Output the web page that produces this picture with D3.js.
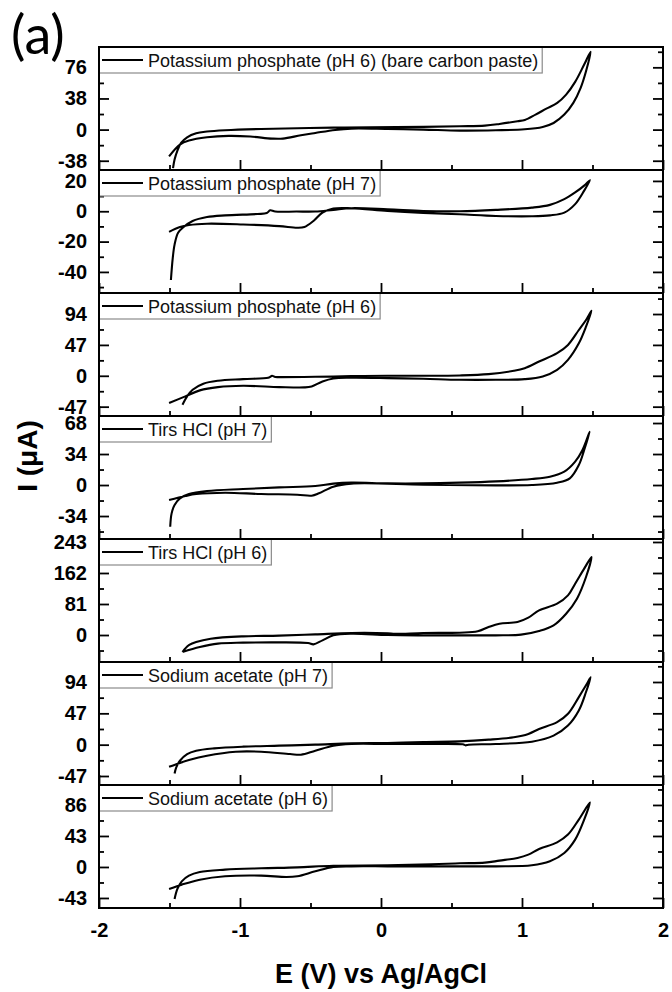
<!DOCTYPE html>
<html>
<head>
<meta charset="utf-8">
<script src="https://cdn.jsdelivr.net/npm/d3@7"></script>
<style>
  body { margin: 0; background: #fff; }
  svg { display: block; }
</style>
</head>
<body>
<svg id="chart" width="672" height="992"></svg>
<script>
// Electrolyte / pH of each stacked voltammogram, top to bottom
const panelLabels = [
  "Potassium phosphate (pH 6) (bare carbon paste)",
  "Potassium phosphate (pH 7)",
  "Potassium phosphate (pH 6)",
  "Tirs HCl (pH 7)",
  "Tirs HCl (pH 6)",
  "Sodium acetate (pH 7)",
  "Sodium acetate (pH 6)"
];

// Labelled tick step of each current axis (µA); minor ticks sit halfway
const tickSteps = [38, 20, 47, 34, 81, 47, 43];

// Current range shown by each panel (µA)
const currentRanges = [
  [-49.3, 100.8],
  [-53.9, 27.2],
  [-61.2, 126],
  [-59.2, 75.7],
  [-70.5, 250.8],
  [-60.5, 124],
  [-56.9, 113.7]
];

// Potential axis
const potentialRange = [-2, 2];
const potentialTicks = [-2, -1, 0, 1, 2];
const potentialMinorTicks = [-1.5, -0.5, 0.5, 1.5];

// Cyclic voltammograms, [E (V), I (µA)] in scan order
const kPhosBarePH6 = [
  [-1.475,-47],[-1.464,-36.6],[-1.444,-25.6],[-1.418,-16.3],[-1.375,-9.4],[-1.311,-4.5],
  [-1.234,-2.4],[-1.106,-0.8],[-0.85,0.8],[-0.594,1.6],[-0.338,2.4],[-0.08,2.8],[0.30,3.3],
  [0.558,4.1],[0.737,4.9],[0.84,6.9],[0.968,10.2],[1.02,11.8],[1.096,18.3],[1.173,25.6],
  [1.25,32.6],[1.313,42.7],[1.377,58.2],[1.441,79.4],[1.487,95],
  [1.454,71.2],[1.416,50.9],[1.364,32.6],[1.30,18.3],[1.224,8.1],[1.147,3.3],[1.019,0.4],
  [0.814,-0.8],[0.558,-1.2],[0.30,0],[0.046,0.8],[-0.21,1.2],[-0.325,-0.4],[-0.466,-4.1],
  [-0.568,-6.9],[-0.696,-11],[-0.773,-11],[-0.927,-8.5],[-1.08,-7.7],[-1.234,-9.4],
  [-1.362,-13.4],[-1.426,-18.3],[-1.503,-32.6]
];
const kPhosPH7 = [
  [-1.49,-45.3],[-1.477,-30.9],[-1.464,-22],[-1.439,-14.2],[-1.40,-10.4],[-1.336,-6.4],
  [-1.234,-3.8],[-1.106,-2.7],[-0.876,-1.8],[-0.81,-1.2],[-0.786,0.6],[-0.75,-0.2],
  [-0.6,-0.2],[-0.466,-0.2],[-0.338,0.9],[-0.21,2],[0.046,1.3],[0.30,0.2],[0.558,0],
  [0.814,0.9],[1.07,2.4],[1.198,4.2],[1.30,8],[1.377,12.4],[1.441,16.9],[1.482,20.5],
  [1.441,13.6],[1.377,4.7],[1.30,-0.9],[1.198,-2.7],[1.07,-3.3],[0.814,-3.1],[0.558,-2],
  [0.30,-1.1],[0.046,0.2],[-0.21,2],[-0.338,1.8],[-0.415,-0.9],[-0.479,-6.4],[-0.543,-10.4],
  [-0.594,-10.9],[-0.722,-9.8],[-0.978,-8.7],[-1.234,-8.2],[-1.362,-9.1],[-1.426,-10.4],
  [-1.503,-13.6]
];
const kPhosPH6 = [
  [-1.408,-44],[-1.375,-31.3],[-1.336,-21.2],[-1.26,-12.1],[-1.157,-7.6],[-0.978,-5.1],
  [-0.80,-3],[-0.785,-1.5],[-0.773,0],[-0.75,-1.8],[-0.722,-2],[-0.466,-1.5],[-0.21,-0.5],
  [0.046,0],[0.30,0],[0.558,0.5],[0.763,2.5],[0.942,7.6],[1.019,11.6],[1.121,21.7],
  [1.249,34.4],[1.326,47],[1.403,69.7],[1.454,84.9],[1.493,99],
  [1.454,74.8],[1.403,49.5],[1.326,24.3],[1.249,9.1],[1.147,-1],[1.019,-5.1],[0.814,-6.1],
  [0.558,-6.1],[0.30,-4.5],[0.046,-3.5],[-0.21,-3],[-0.338,-4],[-0.415,-8.6],[-0.492,-16.2],
  [-0.543,-17.7],[-0.722,-17.2],[-0.978,-15.2],[-1.157,-17.2],[-1.285,-22.2],[-1.388,-31.3],
  [-1.503,-41.4]
];
const trisPH7 = [
  [-1.495,-45.7],[-1.485,-31.1],[-1.464,-21.9],[-1.426,-14.6],[-1.362,-9.9],[-1.234,-6.6],
  [-0.978,-4.4],[-0.722,-2.6],[-0.466,-1.1],[-0.338,1.5],[-0.21,2.6],[0.046,1.8],[0.30,1.8],
  [0.558,2.6],[0.814,4],[1.07,6.6],[1.198,9.1],[1.30,14.6],[1.377,25.6],[1.429,38.4],[1.48,58.5],
  [1.441,38.4],[1.403,21.9],[1.339,7.3],[1.249,2.6],[1.07,0],[0.814,-0.4],[0.30,0.4],
  [-0.21,1.5],[-0.338,-1.8],[-0.44,-9.1],[-0.492,-11.7],[-0.594,-10.6],[-0.85,-9.9],
  [-1.106,-8.4],[-1.31,-9.9],[-1.388,-12.1],[-1.503,-16.5]
];
const trisPH6 = [
  [-1.408,-44.4],[-1.39,-36],[-1.36,-26],[-1.311,-18.3],[-1.208,-9.6],[-0.978,-3.5],
  [-0.722,-1.7],[-0.466,1.7],[-0.21,5.2],[0.046,4.4],[0.10,3],[0.30,5.2],[0.558,6.1],
  [0.686,9.6],[0.763,20.9],[0.84,29.6],[0.968,34],[1.045,45.3],[1.121,64.5],[1.249,81.9],
  [1.326,103.6],[1.377,134],[1.441,173.3],[1.493,203.8],
  [1.454,151.6],[1.39,95],[1.313,55.7],[1.224,25.3],[1.121,10.5],[0.993,0.9],[0.814,-0.9],
  [0.558,-0.9],[0.30,-0.9],[0.046,0],[-0.21,3.5],[-0.338,-0.9],[-0.415,-13.9],[-0.479,-24.4],
  [-0.517,-20.9],[-0.722,-19.2],[-0.978,-20],[-1.157,-22.6],[-1.285,-31.4],[-1.408,-44.4]
];
const naAcPH7 = [
  [-1.464,-43.3],[-1.452,-34.2],[-1.426,-24.1],[-1.375,-14.1],[-1.311,-9.1],[-1.183,-5.5],
  [-0.978,-3],[-0.722,-1.5],[-0.466,0],[-0.21,2],[0.046,2.5],[0.30,4],[0.558,5],[0.763,7.5],
  [0.942,11.1],[1.045,16.1],[1.121,23.6],[1.249,33.7],[1.326,46.3],[1.403,71.4],[1.454,89],
  [1.487,101],
  [1.454,79],[1.403,51.3],[1.326,28.7],[1.224,13.6],[1.07,4.5],[0.814,1],[0.62,0],[0.6,-1],
  [0.58,0.5],[0.30,1],[0.046,1],[-0.21,1],[-0.338,-1.5],[-0.466,-9.1],[-0.568,-15.1],
  [-0.645,-14.1],[-0.85,-10.6],[-1.03,-10.6],[-1.234,-16.6],[-1.362,-23.1],[-1.452,-29.2],
  [-1.503,-33.2]
];
const naAcPH6 = [
  [-1.464,-44.4],[-1.444,-30.5],[-1.413,-19.9],[-1.362,-12],[-1.285,-6.9],[-1.106,-3.7],
  [-0.85,-1.8],[-0.594,-0.5],[-0.338,1.8],[0.046,2.3],[0.353,3.7],[0.558,5.1],[0.737,6],
  [0.84,8.8],[0.968,12.5],[1.045,17.1],[1.121,25],[1.249,34.2],[1.326,44.9],[1.403,65.7],
  [1.482,89.5],
  [1.441,65.7],[1.377,37.9],[1.30,19.4],[1.198,7.9],[1.07,2.3],[0.814,0.9],[0.558,0.9],
  [0.30,0.9],[0.046,0.9],[-0.21,0.9],[-0.338,0],[-0.466,-6],[-0.594,-12.9],[-0.671,-13.9],
  [-0.85,-12],[-1.106,-12.9],[-1.285,-17.6],[-1.413,-24.5],[-1.503,-30.5]
];

const voltammograms = [kPhosBarePH6, kPhosPH7, kPhosPH6, trisPH7, trisPH6, naAcPH7, naAcPH6];

// ---- layout ----
const plotLeft = 99, plotRight = 663;
const plotTop = 47, panelH = 123;
const majorLen = 10, minorLen = 5;
const tickFont = "bold 20px 'Liberation Sans', Arial, sans-serif";

// plain hyphen for negative numbers
const intLabel = d => (d < 0 ? "-" : "") + Math.abs(Math.round(d));

const svg = d3.select("#chart");

const x = d3.scaleLinear().domain(potentialRange).range([plotLeft, plotRight]);

const defs = svg.append("defs");

function styleAxis(g) {
  g.select(".domain").remove();
  g.selectAll(".tick line").attr("stroke", "#000").attr("stroke-width", 1.8);
  g.selectAll(".tick text").attr("fill", "#000").style("font", tickFont);
}

voltammograms.forEach((data, i) => {
  const top = plotTop + i * panelH;
  const bottom = top + panelH;
  const y = d3.scaleLinear().domain(currentRanges[i]).range([bottom, top]);
  const step = tickSteps[i];
  const [lo, hi] = currentRanges[i];

  const majors = d3.range(Math.ceil(lo / step), Math.floor(hi / step) + 1).map(k => k * step);
  const minors = d3.range(Math.ceil(lo / (step / 2)), Math.floor(hi / (step / 2)) + 1)
    .map(k => k * step / 2)
    .filter(v => Math.abs(v / step - Math.round(v / step)) > 1e-6);

  const panel = svg.append("g").attr("class", "panel");

  defs.append("clipPath").attr("id", "clip" + i)
    .append("rect")
    .attr("x", plotLeft).attr("y", top)
    .attr("width", plotRight - plotLeft).attr("height", panelH);

  const line = d3.line()
    .x(d => x(d[0]))
    .y(d => y(d[1]))
    .curve(d3.curveCatmullRom.alpha(0.5));

  // voltammogram trace
  panel.append("path")
    .attr("clip-path", `url(#clip${i})`)
    .attr("fill", "none")
    .attr("stroke", "#000")
    .attr("stroke-width", 2.1)
    .attr("stroke-linejoin", "round")
    .attr("d", line(data));

  // left axis: labelled major ticks + minor ticks, pointing inward
  panel.append("g")
    .attr("transform", `translate(${plotLeft},0)`)
    .call(d3.axisLeft(y).tickValues(majors).tickSizeInner(-majorLen).tickSizeOuter(0)
      .tickPadding(12).tickFormat(intLabel))
    .call(styleAxis);
  panel.append("g")
    .attr("transform", `translate(${plotLeft},0)`)
    .call(d3.axisLeft(y).tickValues(minors).tickSizeInner(-minorLen).tickSizeOuter(0)
      .tickFormat(""))
    .call(styleAxis);

  // right axis mirrors the ticks without labels
  panel.append("g")
    .attr("transform", `translate(${plotRight},0)`)
    .call(d3.axisRight(y).tickValues(majors).tickSizeInner(-majorLen).tickSizeOuter(0)
      .tickFormat(""))
    .call(styleAxis);
  panel.append("g")
    .attr("transform", `translate(${plotRight},0)`)
    .call(d3.axisRight(y).tickValues(minors).tickSizeInner(-minorLen).tickSizeOuter(0)
      .tickFormat(""))
    .call(styleAxis);

  // bottom potential ticks (labels only under the last panel)
  const last = i === voltammograms.length - 1;
  panel.append("g")
    .attr("transform", `translate(0,${bottom})`)
    .call(d3.axisBottom(x).tickValues(potentialTicks).tickSizeInner(-majorLen).tickSizeOuter(0)
      .tickPadding(15).tickFormat(last ? intLabel : ""))
    .call(styleAxis);
  panel.append("g")
    .attr("transform", `translate(0,${bottom})`)
    .call(d3.axisBottom(x).tickValues(potentialMinorTicks).tickSizeInner(-minorLen).tickSizeOuter(0)
      .tickFormat(""))
    .call(styleAxis);

  // legend box
  const legend = panel.append("g").attr("class", "legend");
  const box = legend.append("rect")
    .attr("x", plotLeft).attr("y", top)
    .attr("height", 26)
    .attr("fill", "#fff")
    .attr("stroke", "#8a8a8a")
    .attr("stroke-width", 1.2);
  legend.append("line")
    .attr("x1", plotLeft + 3).attr("x2", plotLeft + 44)
    .attr("y1", top + 13).attr("y2", top + 13)
    .attr("stroke", "#000").attr("stroke-width", 2);
  const label = legend.append("text")
    .attr("x", plotLeft + 49).attr("y", top + 19.5)
    .attr("fill", "#111")
    .style("font", "18px 'Liberation Sans', Arial, sans-serif")
    .text(panelLabels[i]);
  const tw = label.node().getComputedTextLength();
  box.attr("width", 49 + tw + 4);

  // panel frame
  panel.append("rect")
    .attr("x", plotLeft).attr("y", top)
    .attr("width", plotRight - plotLeft).attr("height", panelH)
    .attr("fill", "none").attr("stroke", "#000").attr("stroke-width", 2);
});

// axis titles
svg.append("text")
  .attr("x", (plotLeft + plotRight) / 2).attr("y", 983)
  .attr("text-anchor", "middle")
  .attr("fill", "#000")
  .style("font", "bold 27px 'Liberation Sans', Arial, sans-serif")
  .text("E (V) vs Ag/AgCl");

svg.append("text")
  .attr("transform", "translate(37,456) rotate(-90)")
  .attr("text-anchor", "middle")
  .attr("fill", "#000")
  .style("font", "bold 28px 'Liberation Sans', Arial, sans-serif")
  .text("I (μA)");

// panel tag
svg.append("text")
  .attr("x", 11).attr("y", 54)
  .attr("fill", "#000")
  .style("font", "54px Lato, 'Open Sans', sans-serif")
  .text("(a)");
</script>
</body>
</html>
